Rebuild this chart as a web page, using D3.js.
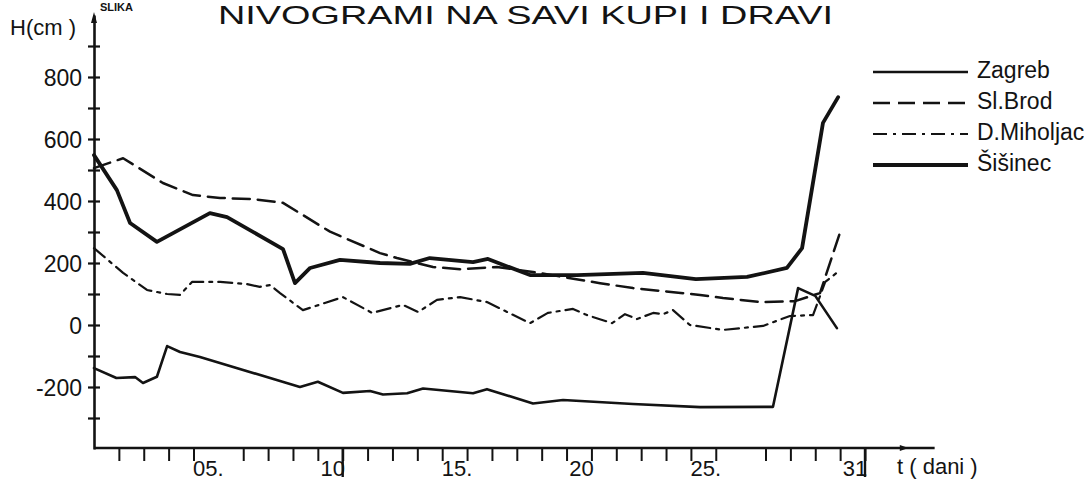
<!DOCTYPE html>
<html><head><meta charset="utf-8">
<script src="https://cdn.jsdelivr.net/npm/d3@7"></script>
<style>body{margin:0;background:#fff} svg{display:block}</style>
</head><body><svg id="c" width="1084" height="480"></svg>
<script>
// ---- text ----
const titleText = "NIVOGRAMI NA SAVI KUPI I DRAVI";
const figText = "SLIKA";
const yAxisTitle = "H(cm )";
const xAxisTitle = "t ( dani )";
const seriesNames = ["Zagreb", "Sl.Brod", "D.Miholjac", "Šišinec"];

// ---- series data (day of month, water level in cm) ----
const zagrebDays   = [0, 0.9, 1.65, 1.97, 2.53, 2.94, 3.46, 4.26, 8.28, 9.0, 10.01, 11.1, 11.62, 12.59, 13.23, 15.24, 15.8, 17.65, 18.86, 21.67, 24.37, 27.3, 28.31, 29.0, 29.87];
const zagrebLevels = [-139, -171, -168, -187, -167, -68, -87, -103, -200, -183, -219, -213, -224, -220, -205, -220, -207, -253, -242, -255, -265, -264, 119, 94, -10];

const brodDays   = [0, 1.17, 2.77, 3.98, 5.07, 6.39, 7.6, 9.49, 11.5, 12.18, 13.63, 14.72, 16.2, 17.65, 20.35, 21.67, 24.37, 25.29, 26.78, 28.19, 29.19, 29.99];
const brodLevels = [506, 538, 458, 419, 410, 406, 394, 301, 232, 216, 187, 180, 187, 171, 135, 119, 97, 87, 74, 77, 103, 297];

const miholjacDays   = [0, 1.17, 2.13, 2.94, 3.46, 3.94, 5.07, 6.15, 6.67, 7.08, 7.48, 8.4, 10.01, 11.18, 12.42, 13.03, 13.79, 14.72, 15.8, 17.53, 18.25, 19.26, 19.82, 20.83, 21.35, 21.83, 22.48, 22.88, 23.28, 23.96, 25.29, 26.9, 27.98, 28.91, 29.4, 30];
const miholjacLevels = [248, 168, 113, 100, 97, 139, 139, 132, 123, 129, 103, 48, 90, 39, 65, 42, 81, 90, 74, 6, 39, 52, 32, 6, 35, 19, 39, 35, 48, 0, -16, -3, 29, 32, 139, 177];

const sisinecDays   = [0, 0.92, 1.45, 2.53, 4.66, 5.35, 7.6, 8.08, 8.69, 9.89, 11.5, 12.7, 13.5, 15.24, 15.84, 17.53, 19.42, 22.07, 24.2, 26.26, 27.86, 28.47, 29.31, 29.92];
const sisinecLevels = [548, 435, 329, 268, 361, 348, 245, 135, 184, 210, 200, 197, 216, 203, 213, 161, 161, 168, 148, 155, 184, 248, 652, 735];

// ---- axes ----
const yTickValues  = [-300, -200, -100, 0, 100, 200, 300, 400, 500, 600, 700, 800, 900];
const yLabelValues = [-200, 0, 200, 400, 600, 800];
const xTickDays    = [1, 2, 3, 4, 6, 7, 8, 9, 10, 11, 12, 13, 14, 15, 16, 17, 18, 19, 20, 21, 22, 23, 24, 25, 27, 28, 29, 30, 31];
const xLabelDays   = [5, 10, 15, 20, 25, 31];
const xLabelTexts  = ["05.", "10", "15.", "20", "25.", "31"];
const xBarDays     = [10, 31];
const xDomain = [0, 31];
const yDomain = [-400, 1000];
const xAxisEndDay = 33.8;

// ---- styles ----
const ink = "#131313";
const font = "'Liberation Sans', Arial, sans-serif";
const styles = {
  "Zagreb":     {w: 2.6, dash: null},
  "Sl.Brod":    {w: 2.5, dash: "17,8"},
  "D.Miholjac": {w: 2.2, dash: "14,6,3,6"},
  "Šišinec":    {w: 3.8, dash: null}
};

const svg = d3.select("#c");
const x = d3.scaleLinear().domain(xDomain).range([94, 865]);
const y = d3.scaleLinear().domain(yDomain).range([449, 15]);

// title
svg.append("text").attr("x", 218).attr("y", 24).attr("font-family", font)
  .attr("font-size", 25).attr("fill", ink)
  .attr("textLength", 615).attr("lengthAdjust", "spacingAndGlyphs").text(titleText);
svg.append("text").attr("x", 100).attr("y", 11).attr("font-family", font)
  .attr("font-size", 11).attr("font-weight", "bold").attr("fill", ink).text(figText);

// Y axis
const yAxis = d3.axisLeft(y).tickValues(yTickValues).tickSizeInner(6).tickSizeOuter(0)
  .tickFormat(v => yLabelValues.includes(v) ? String(v) : "");
const gy = svg.append("g").attr("transform", `translate(${x(0)},0)`).call(yAxis);
gy.select(".domain").attr("stroke", ink).attr("stroke-width", 2.6);
gy.selectAll(".tick line").attr("x1", -6).attr("x2", 6).attr("stroke", ink).attr("stroke-width", 2.2);
gy.selectAll(".tick text").attr("x", -12).attr("dy", "0.35em")
  .attr("font-family", font).attr("font-size", 23).attr("fill", ink);
svg.append("path").attr("fill", ink)
  .attr("d", `M${x(0)},${y(yDomain[1]) - 3}L${x(0) - 3},${y(yDomain[1]) + 8}L${x(0) + 3},${y(yDomain[1]) + 8}Z`);
svg.append("text").attr("x", 10).attr("y", 35).attr("font-family", font)
  .attr("font-size", 22).attr("fill", ink).text(yAxisTitle);

// X axis
const xAxis = d3.axisBottom(x).tickValues(xTickDays).tickSizeInner(13).tickSizeOuter(0).tickFormat("");
const gx = svg.append("g").attr("transform", `translate(0,${y(yDomain[0]) - 1})`).call(xAxis);
gx.select(".domain").remove();
gx.selectAll(".tick line").attr("stroke", ink).attr("stroke-width", 2);
svg.append("line").attr("x1", x(0)).attr("x2", x(xAxisEndDay))
  .attr("y1", y(yDomain[0]) - 1).attr("y2", y(yDomain[0]) - 1)
  .attr("stroke", ink).attr("stroke-width", 2.6);
svg.append("path").attr("fill", ink)
  .attr("d", `M${x(32.75)},${y(yDomain[0]) - 1}L${x(32.4)},${y(yDomain[0]) - 4}L${x(32.4)},${y(yDomain[0]) + 2}Z`);
svg.selectAll("line.bar").data(xBarDays).join("line").attr("class", "bar")
  .attr("x1", d => x(d)).attr("x2", d => x(d))
  .attr("y1", y(yDomain[0]) - 1).attr("y2", y(yDomain[0]) + 28)
  .attr("stroke", ink).attr("stroke-width", 2.4);
svg.selectAll("text.xl").data(xLabelDays).join("text").attr("class", "xl")
  .attr("x", d => x(d) - 10).attr("y", 476).attr("text-anchor", "middle")
  .attr("font-family", font).attr("font-size", 22).attr("fill", ink)
  .text((d, i) => xLabelTexts[i]);
svg.append("text").attr("x", 897).attr("y", 474).attr("font-family", font)
  .attr("font-size", 22).attr("fill", ink).text(xAxisTitle);

// series
const seriesData = {
  "Zagreb": d3.zip(zagrebDays, zagrebLevels),
  "Sl.Brod": d3.zip(brodDays, brodLevels),
  "D.Miholjac": d3.zip(miholjacDays, miholjacLevels),
  "Šišinec": d3.zip(sisinecDays, sisinecLevels)
};
const line = d3.line().x(d => x(d[0])).y(d => y(d[1]));
seriesNames.forEach(name => {
  const s = styles[name];
  svg.append("path").datum(seriesData[name]).attr("d", line)
    .attr("fill", "none").attr("stroke", ink).attr("stroke-width", s.w)
    .attr("stroke-linejoin", "round").attr("stroke-linecap", "round")
    .attr("stroke-dasharray", s.dash);
});

// legend
const lg = svg.append("g");
seriesNames.forEach((name, i) => {
  const s = styles[name];
  const ly = 72 + i * 31;
  lg.append("line").attr("x1", 873).attr("x2", 968).attr("y1", ly).attr("y2", ly)
    .attr("stroke", ink).attr("stroke-width", s.w).attr("stroke-dasharray", s.dash);
  lg.append("text").attr("x", 977).attr("y", ly + 6).attr("font-family", font)
    .attr("font-size", 23).attr("fill", ink).text(name);
});
</script></body></html>
